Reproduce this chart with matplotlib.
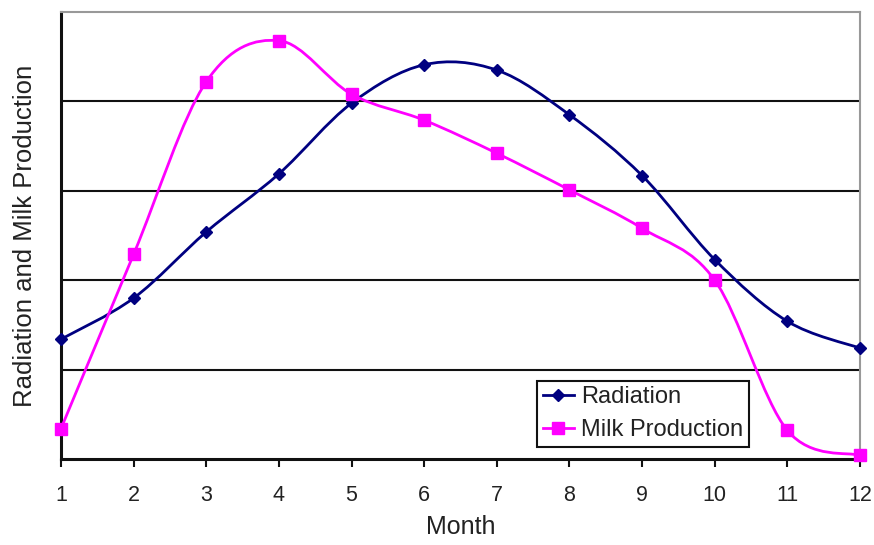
import matplotlib
matplotlib.use("Agg")
import matplotlib.pyplot as plt
from matplotlib.path import Path
from matplotlib.patches import PathPatch
from matplotlib.lines import Line2D

plt.rcParams['font.family'] = ['Liberation Sans', 'DejaVu Sans']

months = [1, 2, 3, 4, 5, 6, 7, 8, 9, 10, 11, 12]
radiation = [1.34, 1.80, 2.54, 3.19, 3.98, 4.41, 4.35, 3.85, 3.17, 2.23, 1.54, 1.24]
milk = [0.34, 2.29, 4.22, 4.68, 4.08, 3.79, 3.42, 3.01, 2.58, 2.00, 0.32, 0.04]
x_ticks = months
y_grid = [1, 2, 3, 4]

RAD_COLOR = '#000080'
MILK_COLOR = '#FF00FF'
TEXT_COLOR = '#222222'


def smooth_path(xs, ys):
    # Excel-style smoothed line: cubic Bezier segments through the data points
    pts = list(zip(xs, ys))
    n = len(pts)
    verts = [pts[0]]
    codes = [Path.MOVETO]
    for i in range(n - 1):
        p0 = pts[i - 1] if i > 0 else pts[i]
        p1 = pts[i]
        p2 = pts[i + 1]
        p3 = pts[i + 2] if i + 2 < n else pts[i + 1]
        c1 = (p1[0] + (p2[0] - p0[0]) / 6.0, p1[1] + (p2[1] - p0[1]) / 6.0)
        c2 = (p2[0] - (p3[0] - p1[0]) / 6.0, p2[1] - (p3[1] - p1[1]) / 6.0)
        verts += [c1, c2, p2]
        codes += [Path.CURVE4, Path.CURVE4, Path.CURVE4]
    return Path(verts, codes)


fig = plt.figure(figsize=(8.74, 5.45), dpi=100)
ax = fig.add_axes([61 / 874, 1 - 459 / 545, 799 / 874, 447 / 545])

ax.set_xlim(1, 12)
ax.set_ylim(0, 5)

for g in y_grid:
    ax.axhline(g, color='#111111', lw=1.5, zorder=1)

ax.add_patch(PathPatch(smooth_path(months, radiation), facecolor='none',
                       edgecolor=RAD_COLOR, lw=2, zorder=3))
ax.add_patch(PathPatch(smooth_path(months, milk), facecolor='none',
                       edgecolor=MILK_COLOR, lw=2, zorder=3))
ax.plot(months, radiation, linestyle='none', marker='D', markersize=6,
        color=RAD_COLOR, zorder=4, clip_on=False)
ax.plot(months, milk, linestyle='none', marker='s', markersize=8,
        color=MILK_COLOR, zorder=4, clip_on=False)

ax.set_xticks(x_ticks)
ax.set_xticklabels([str(m) for m in x_ticks])
ax.set_yticks([])
ax.tick_params(axis='x', direction='out', length=6, width=1.5, pad=13,
               labelsize=15.5, colors='#111111', labelcolor=TEXT_COLOR)

for side in ['left', 'bottom']:
    ax.spines[side].set_color('#111111')
    ax.spines[side].set_linewidth(2.2)
for side in ['top', 'right']:
    ax.spines[side].set_color('#999999')
    ax.spines[side].set_linewidth(1.5)

ax.set_xlabel('Month', fontsize=18, color=TEXT_COLOR)
ax.xaxis.set_label_coords(0.5, -0.125)
ax.set_ylabel('Radiation and Milk Production', fontsize=18.5, color=TEXT_COLOR)
ax.yaxis.set_label_coords(-0.030, 0.5)

handles = [
    Line2D([], [], color=RAD_COLOR, lw=2, marker='D', markersize=6),
    Line2D([], [], color=MILK_COLOR, lw=2, marker='s', markersize=8),
]
leg = ax.legend(handles, ['Radiation', 'Milk Production'], loc='lower left',
                bbox_to_anchor=(0.596, 0.027), borderaxespad=0, fontsize=17,
                frameon=True, fancybox=False, edgecolor='#111111',
                handlelength=1.3, handletextpad=0.3, borderpad=0.25,
                labelspacing=0.45, framealpha=1)
leg.get_frame().set_linewidth(1.5)
for t in leg.get_texts():
    t.set_color(TEXT_COLOR)
leg.set_zorder(5)

fig.savefig('out.png', dpi=100)
